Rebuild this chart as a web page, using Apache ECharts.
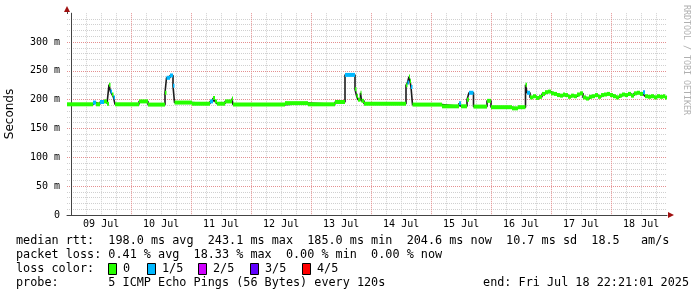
<!DOCTYPE html>
<html><head><meta charset="utf-8">
<script src="https://cdn.jsdelivr.net/npm/echarts@6/dist/echarts.min.js"></script>
<style>html,body{margin:0;padding:0;background:#fff}#c{width:697px;height:297px}</style>
</head><body><div id="c"></div>
<script>
// ---- data ----
const startHour = -1.65;   // Jul 8 22:21 relative to Jul 9 00:00
const endHour = 238.35;    // Jul 18 22:21
const dayLabels = ['09 Jul','10 Jul','11 Jul','12 Jul','13 Jul','14 Jul','15 Jul','16 Jul','17 Jul','18 Jul'];
const yTickValues = [0, 50, 100, 150, 200, 250, 300];
const sampleHours = [-1.65,8.75,9.95,11.55,13.15,14.35,15.15,15.75,16.35,16.95,17.55,27.15,30.75,37.55,38.15,39.55,40.75,41.35,48.35,55.55,56.75,57.55,58.35,61.55,64.35,64.75,85.55,94.75,105.55,109.55,113.55,114.15,114.75,115.75,116.15,117.15,133.95,134.55,135.15,135.55,135.95,136.55,148.35,155.15,155.95,158.35,159.15,160.95,166.35,167.95,176.35,178.75,181.75,182.35,183.55,184.75,185.95,187.15,188.35,189.55,190.75,191.95,193.15,194.35,195.55,196.75,197.55,198.75,199.95,201.15,202.35,203.55,204.75,205.95,207.15,208.35,209.55,210.75,211.95,213.15,214.35,215.55,216.75,217.95,219.15,220.35,221.55,222.75,223.95,225.15,226.35,227.55,228.75,229.55,230.75,231.95,233.15,234.35,235.55,236.75,237.55];
const medianRtt = [192,195,192,196,197,193,226,214,209,204,192,197,191.5,212,238,242,224,195,193,197,203,197,193,197,202,191.5,194,192,196,243,218,207,200,212,198,193,225,230,240,232,222,191.5,188.5,194,188.5,200,212,188,198,187,185,187,226,212,204,206,203,205,210,213,214,211,210,208,207,209,208,205,207,206,209,211,204,202,205,206,208,205,208,209,210,208,206,204,207,209,208,210,207,211,212,210,213,206,205,206,204,206,205,206,204];
const lossLevel = [0,1,0,1,0,0,0,1,0,1,0,0,0,0,1,1,1,0,0,1,0,0,0,0,0,0,0,0,0,1,0,0,0,0,0,0,0,1,0,0,1,0,0,1,0,0,1,0,0,0,0,0,0,1,0,0,0,0,0,0,0,0,0,0,0,0,0,0,0,0,0,0,0,0,0,0,0,0,0,0,0,0,0,0,0,0,0,0,0,0,0,0,1,0,0,0,0,0,0,0,0];
const lossLabels = ['0','1/5','2/5','3/5','4/5'];
const lossColors = ['#26ff00','#00b8ff','#d000ff','#6000ff','#ff0000'];
const statLines = [
  'median rtt:  198.0 ms avg  243.1 ms max  185.0 ms min  204.6 ms now  10.7 ms sd  18.5   am/s',
  'packet loss: 0.41 % avg  18.33 % max  0.00 % min  0.00 % now',
  'loss color:',
  'probe:       5 ICMP Echo Pings (56 Bytes) every 120s'
];
const endText = 'end: Fri Jul 18 22:21:01 2025';
const sideText = 'RRDTOOL / TOBI OETIKER';

// ---- build ----
const lineData = sampleHours.map((t, i) => [t, medianRtt[i]]);
lineData.push([endHour, medianRtt[medianRtt.length - 1]]);
const bandData = sampleHours.map((t, i) => [t, i + 1 < sampleHours.length ? sampleHours[i + 1] : endHour, medianRtt[i], lossLevel[i]]);

const vGrid = [];
for (let h = 0; h < endHour; h += 6) vGrid.push([h, h % 24 === 0 ? 1 : 0]);
const labelPoints = dayLabels.map((d, i) => ({ value: [12 + 24 * i, 0], name: d }));

const mono = 'DejaVu Sans Mono';
const CH = 7.1, TX = 16;
const graphics = [];
const rows = [241, 255, 269, 283];
statLines.forEach((s, i) => graphics.push({ type: 'text', x: TX, y: rows[i], style: { text: s, font: '11.8px "' + mono + '"', fill: '#000', verticalAlign: 'middle' } }));
graphics.push({ type: 'text', x: 689, y: 283, style: { text: endText, font: '11.8px "' + mono + '"', fill: '#000', align: 'right', verticalAlign: 'middle' } });
const boxCols = [13, 18.4, 25.7, 33, 40.3];
lossLabels.forEach((l, i) => {
  const bx = TX + CH * boxCols[i];
  graphics.push({ type: 'rect', shape: { x: Math.round(bx) + 0.5, y: 263.5, width: 8, height: 11 }, style: { fill: lossColors[i], stroke: '#000', lineWidth: 1 } });
  graphics.push({ type: 'text', x: Math.round(bx) + 15, y: 269, style: { text: l, font: '11.8px "' + mono + '"', fill: '#000', verticalAlign: 'middle' } });
});
graphics.push({ type: 'text', x: 10, y: 114, rotation: Math.PI / 2, style: { text: 'Seconds', font: '12px "DejaVu Sans"', fill: '#000', align: 'center', verticalAlign: 'middle' } });
graphics.push({ type: 'text', x: 686, y: 5, rotation: -Math.PI / 2, style: { text: sideText, font: '8.3px "' + mono + '"', fill: '#b0b0b0', align: 'left', verticalAlign: 'middle' } });
// axis arrows
graphics.push({ type: 'polygon', shape: { points: [[64, 12], [70, 12], [67, 6]] }, style: { fill: '#a01010' } });
graphics.push({ type: 'line', shape: { x1: 67.5, y1: 12, x2: 67.5, y2: 14 }, style: { stroke: '#444', lineWidth: 1 } });
graphics.push({ type: 'polygon', shape: { points: [[668, 212], [668, 218], [674, 215]] }, style: { fill: '#a01010' } });

const gridRed = '#e49090', gridGrey = '#d0d0d0';
const chart = echarts.init(document.getElementById('c'), null, { renderer: 'canvas' });
chart.setOption({
  backgroundColor: '#fff',
  animation: false,
  grid: { left: 67, right: 30, top: 13.2, bottom: 82 },
  xAxis: {
    type: 'value', min: startHour, max: endHour,
    axisLine: { show: true, lineStyle: { color: '#444', width: 1 } },
    axisTick: { show: false }, axisLabel: { show: false }, splitLine: { show: false }
  },
  yAxis: {
    type: 'value', min: 0, max: 350, interval: 50,
    axisLine: { show: true, lineStyle: { color: '#444', width: 1 } },
    axisTick: { show: false },
    axisLabel: {
      showMaxLabel: false, margin: 7, color: '#000', fontFamily: mono, fontSize: 10,
      formatter: v => yTickValues.indexOf(v) < 0 ? '' : (v === 0 ? '0' : v + ' m')
    },
    splitLine: { show: true, lineStyle: { color: [gridRed, gridRed, gridRed, gridRed, gridRed, gridRed, gridRed, 'rgba(0,0,0,0)'], type: [1, 1], width: 1 } },
    minorTick: { show: false, splitNumber: 5 },
    minorSplitLine: { show: true, lineStyle: { color: gridGrey, type: [1, 1], width: 1 } }
  },
  series: [
    {
      type: 'custom', data: vGrid, z: 0, silent: true,
      encode: { x: 0 },
      renderItem: (params, api) => {
        const h = api.value(0);
        const top = api.coord([h, 350]);
        const bot = api.coord([h, 0]);
        const x = Math.floor(top[0]) + 0.5;
        return { type: 'line', shape: { x1: x, y1: top[1], x2: x, y2: bot[1] }, style: { stroke: api.value(1) ? gridRed : gridGrey, lineWidth: 1, lineDash: [1, 1] } };
      }
    },
    {
      type: 'line', data: lineData, step: 'end', showSymbol: false, symbol: 'none', z: 2,
      lineStyle: { color: '#1c1c1c', width: 1.6 }, silent: true
    },
    {
      type: 'custom', data: bandData, z: 3, silent: true,
      encode: { x: [0, 1], y: 2 },
      renderItem: (params, api) => {
        const v = api.value(2);
        const p0 = api.coord([api.value(0), v]);
        const p1 = api.coord([api.value(1), v]);
        return { type: 'rect', shape: { x: p0[0], y: p0[1] - 2, width: p1[0] - p0[0], height: 4 }, style: { fill: lossColors[api.value(3)] } };
      }
    },
    {
      type: 'scatter', data: labelPoints, symbol: 'rect', symbolSize: 1, z: 4, silent: true, clip: false,
      itemStyle: { color: 'rgba(255,255,255,0)' },
      label: { show: true, position: 'bottom', distance: 4, formatter: '{b}', color: '#000', opacity: 1, fontFamily: mono, fontSize: 10 }
    }
  ],
  graphic: graphics
});
</script></body></html>
